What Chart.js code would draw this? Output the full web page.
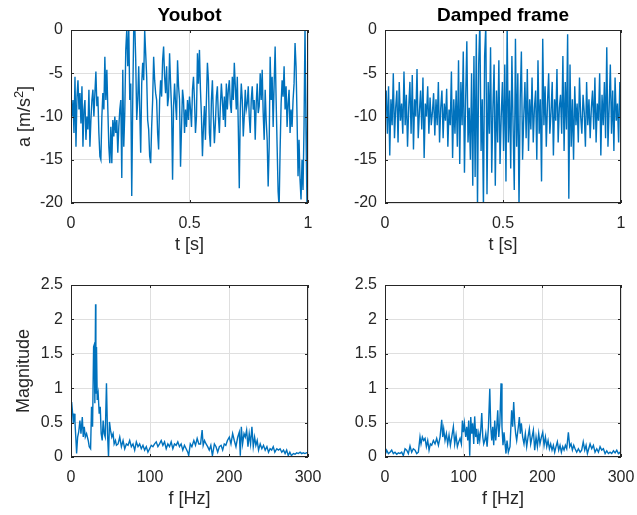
<!DOCTYPE html>
<html>
<head>
<meta charset="utf-8">
<script src="https://cdn.jsdelivr.net/npm/chart.js@4.4.0/dist/chart.umd.min.js"></script>
<style>
  body { margin: 0; background: #fff; }
  #wrap { position: relative; width: 637px; height: 515px; }
  canvas { position: absolute; }
</style>
</head>
<body>
<div id="wrap">
  <canvas id="accYoubot" width="335" height="265" style="left:0;top:0"></canvas>
  <canvas id="accDamped" width="302" height="265" style="left:335px;top:0"></canvas>
  <canvas id="fftYoubot" width="335" height="250" style="left:0;top:265px"></canvas>
  <canvas id="fftDamped" width="302" height="250" style="left:335px;top:265px"></canvas>
</div>
<script>
// acceleration over one second
const youbotAcc = [
  -9.2, -10, -8.1, -11.9, -5.4, -13.5, -7.7, -5.8, -9.2, -7.3,
  -10.8, -6.5, -13.5, -9.2, -8.1, -12.7, -10, -11.5, -6.9, -13.5,
  -10.4, -8.1, -6.9, -10, -7.3, -4.8, -8.8, -7.7, -11.9, -14.6,
  -15, -10, -7.3, -9.2, -3.1, -8.1, -4.6, -9.2, -13.5, -15.4,
  -11.2, -15.4, -10.4, -12.3, -10, -11.9, -10.4, -14.2, -11.2, -9.2,
  -8.1, -17.1, -4.6, -13.5, -9.6, -2.3, 0, -4.2, 0.5, -8.1,
  -6.2, -19.2, -8.1, 0.3, 0.8, -3.5, -10.4, -8.1, -4.2, -9.2,
  -14.2, -6.2, -3.8, -5.8, 0, -2.7, -5.4, -10.4, -11.5, -14.6,
  -15.4, -11.2, -8.1, -3.1, -5.8, -7.3, -8.1, -11.9, -13.8, -8.1,
  -5.8, -7.7, -3.5, -1.9, -5.4, -7.3, -4.2, -8.8, -7.7, -2.7,
  -6.2, -9.2, -17.3, -8.8, -6.2, -8.5, -10.4, -3.5, -6.5, -8.1,
  -15.8, -11.2, -6.9, -8.1, -11.9, -9.2, -11.2, -8.1, -10.4, -7.7,
  -9.2, -11.2, -6.9, -5.4, -8.1, -11.9, -10, -2.7, -6.2, -2.3,
  -6.9, -10, -14.6, -11.2, -8.8, -12.7, -8.1, -3.8, -5.8, -11.9,
  -13.5, -8.1, -5.8, -10, -13.1, -10.8, -7.7, -6.5, -10, -11.9,
  -8.8, -6.2, -8.1, -10.4, -7.7, -11.2, -6.2, -9.2, -6.9, -5.8,
  -8.5, -9.6, -5.4, -8.1, -3.8, -6.5, -9.2, -5.4, -11.2, -18.3,
  -9.2, -6.2, -8.1, -12.3, -10, -6.9, -9.2, -8.5, -6.5, -10,
  -11.9, -8.1, -6.5, -9.2, -8.1, -12.7, -8.5, -6.2, -9.6, -8.8,
  -5, -8.1, -4.6, -9.6, -12.7, -6.9, -10.4, -12.7, -18.1, -13.5,
  -3.1, -8.1, -5.4, -11.2, -6.2, -1.9, -8.1, -13.5, -18.7, -20.5,
  -13.8, -8.5, -5.8, -7.7, -4.2, -9.2, -6.5, -11.2, -8.5, -6.9,
  -11.9, -9.2, -11.2, -8.1, -6.2, -1.5, -4.2, -10, -16.9, -12.7,
  -17.3, -19.6, -15, -18.5, -11.2, 0.5, -11.9, -20.5, 0.5
];

const dampedAcc = [
  -10, -7, -12, -6.5, -14.5, -8, -11, -5, -12.5, -9, -7, -13, -6, -10.5, -8.5, -12, -4.8, -11, -7.5, -13.5,
  -9, -6, -12, -5.2, -13.8, -8, -10, -4.5, -12.5, -9.5, -7, -11.5, -5.5, -14.8, -8.5, -10, -6.5, -12, -7.8, -11,
  -9.5, -7.3, -12.2, -8, -11, -6, -13, -9, -7, -12.5, -8.5, -10.5, -6.8, -13.5, -9.2, -11, -4.8, -14.8, -8, -12,
  -7, -13.5, -3.5, -15.5, -6, -11, -2.5, -16.5, -8, -1.3, -13, -9, -15, -5, -18, -3, -17, -0.5, -20.5, -4,
  1, -14, -8, -20.5, -3, 0.5, -19, -6, -12, -2, -16.5, -9, -4, -18, -7, -13, -3.5, -15.5, -10, -6,
  -14, -4, -17.5, 0.5, -13, -7, -16, -3, -11, -18.5, -1, -13.5, -5, -20.5, -8, -2.5, -15, -10, -6, -12.5,
  -4.5, -14, -8, -11.5, -5.5, -13, -9, -7, -15, -3.5, -12, -8, -17.5, -1, -11, -6.5, -13.5, -8.5, -5, -12,
  -9.5, -6, -14.5, -8, -10.5, -4.5, -13, -9, -7.5, -12, -3, -14, -6, -11.5, -0.5, -19.5, -4, -13.5, -8, -15,
  -6.5, -11, -8.5, -13, -5.5, -10, -12, -7.5, -9.5, -13.5, -6, -11, -8, -12.5, -9, -7, -11.5, -5.5, -13, -8.5,
  -10.5, -5, -14.5, -7.5, -11, -6, -12.5, -2, -13.5, -9, -4, -12, -7, -14, -5.5, -10.5, -8.5, -13, -6, -10
];

// spectra: frequency [Hz] and magnitude
const youbotFreq = [
  0.8, 2.1, 2.9, 3.8, 5.0, 6.3, 7.1, 8.4, 9.7, 11.3, 12.6, 14.3, 15.5, 16.8, 18.1, 19.7, 21.8, 23.1, 24.8, 26.0,
  27.3, 28.6, 29.4, 30.2, 31.1, 31.5, 32.3, 33.2, 34.4, 35.7, 37.0, 38.2, 39.5, 40.7, 42.0, 43.3, 44.9, 46.2, 47.5, 48.7,
  50.0, 51.7, 53.3, 54.6, 56.3, 57.5, 59.6, 61.7, 63.8, 65.9, 68.0, 70.1, 72.2, 74.3, 76.4, 78.5, 80.6, 82.7, 84.8, 86.9,
  89.0, 91.1, 93.2, 95.3, 97.4, 99.5, 101.6, 103.7, 105.8, 107.9, 110.0, 112.1, 114.2, 116.3, 118.4, 120.5, 122.6, 124.7, 126.8, 128.9,
  131.0, 133.1, 135.2, 137.3, 139.4, 141.5, 143.6, 145.7, 147.8,
  149, 151, 153, 155.5, 157.6, 159.7, 161.8, 164, 166, 167.3, 169, 171, 173, 175, 177, 179, 181.5, 183.6, 185.7, 187.8,
  190, 192, 194, 196, 198, 200.4, 202.5, 204.6, 206.7, 208.8, 211, 213, 214.3, 215.6, 217.2, 219, 220.6, 222.3, 224, 225.6,
  227.3, 229, 230.7, 232.4, 234, 235.7, 237.4, 239.5, 241.6, 243.7, 245.8, 248, 250, 252, 254, 256, 258, 260.5, 262.6, 264.7,
  266.8, 269, 271, 273, 275, 277, 279, 281.5, 283.6, 285.7, 287.8, 290, 292, 294, 296, 300
];
const youbotMag = [
  0.80, 0.63, 0.49, 0.63, 0.51, 0.24, 0.05, 0.29, 0.36, 0.53, 0.34, 0.58, 0.29, 0.44, 0.29, 0.34, 0.24, 0.15, 0.12, 0.73,
  0.44, 1.60, 1.63, 0.78, 2.22, 0.92, 1.60, 0.83, 0.92, 0.63, 0.73, 0.34, 0.24, 0.53, 0.34, 0.29, 1.07, 0.34, 0.0, 0.51,
  0.39, 0.29, 0.34, 0.19, 0.24, 0.17, 0.19, 0.29, 0.15, 0.24, 0.12, 0.19, 0.17, 0.24, 0.15, 0.19, 0.10, 0.22, 0.15, 0.19,
  0.12, 0.17, 0.10, 0.15, 0.07, 0.12, 0.17, 0.15, 0.19, 0.22, 0.15, 0.19, 0.24, 0.17, 0.22, 0.12, 0.19, 0.15, 0.22, 0.12,
  0.19, 0.17, 0.22, 0.15, 0.19, 0.10, 0.17, 0.12, 0.07,
  0.02, 0.19, 0.15, 0.24, 0.17, 0.27, 0.19, 0.19, 0.39, 0.17, 0.24, 0.19, 0.15, 0.10, 0.17, 0.02, 0.19, 0.15, 0.07, 0.15,
  0.17, 0.10, 0.19, 0.17, 0.24, 0.29, 0.19, 0.34, 0.24, 0.15, 0.29, 0.36, 0.02, 0.44, 0.19, 0.34, 0.29, 0.39, 0.15, 0.34,
  0.19, 0.44, 0.15, 0.29, 0.17, 0.24, 0.10, 0.19, 0.12, 0.17, 0.10, 0.15, 0.07, 0.12, 0.10, 0.15, 0.07, 0.12, 0.10, 0.12,
  0.07, 0.10, 0.05, 0.10, 0.02, 0.07, 0.02, 0.05, 0.04, 0.06, 0.05, 0.07, 0.05, 0.06, 0.05, 0.07
];

const dampedFreq = [
  0.9, 2.1, 4.3, 6.4, 8.5, 10.6, 12.7, 14.9, 17, 19, 21.2, 23.3, 25.5, 27.6, 29.7, 31.8, 33.9, 36, 38.2, 40.3,
  42.4, 44.5, 45.8, 47.5, 49.2, 50.9, 52.6, 54.3, 56, 57.7, 59.4, 61.5, 63.6, 65.7, 67.9, 70, 72.1, 73.4, 74.6, 76.3,
  78, 79.7, 81.4, 83.1, 84.8, 86.9, 88.6, 90.3, 92, 93.7, 95.4, 97.1, 98.4, 99.7, 100.9, 102.6, 103.9, 105.2, 106.4, 107.7,
  109, 110.3, 111.5, 112.8, 114, 115.3, 116.6, 117.9, 119.2, 120.4, 121.7, 123, 124.3, 125.5, 126.8, 128.1, 129.8, 131.5, 133.2, 134.4,
  135.7, 137, 138.2, 139.5, 140.8, 142.1, 143.3, 144.6, 146, 147.5, 148.7, 150, 151.3, 152.6, 153.8, 155.1, 156.8, 158.9, 161, 162.3,
  163.6, 164.9, 166.1, 167.4, 169.5, 170.8, 172, 173.3, 175, 176.7, 178.4, 180.1, 181.8, 183.5, 185.2, 186.9, 188.6, 190.3, 192, 193.7,
  195.4, 197, 198.8, 200.5, 202.2, 203.9, 205.6, 207.3, 209, 210.6, 212.3, 214, 215.7, 217.4, 219.1, 220.8, 222.5, 224.2, 225.9, 227.6,
  229.3, 231, 233.1, 234.8, 236.5, 238.2, 239.9, 241.6, 243.7, 245.8, 248, 250, 252, 253.9, 255.6, 257.3, 259, 260.7, 262.8, 264.9,
  267, 269.2, 271.3, 273.4, 275.5, 277.6, 279.8, 281.9, 284, 286.1, 288.2, 290.4, 292.5, 294.6, 296.7, 298.8, 300
];
const dampedMag = [
  0.05, 0.10, 0.05, 0.07, 0.10, 0.05, 0.07, 0.04, 0.06, 0.05, 0.07, 0.02, 0.12, 0.10, 0.05, 0.16, 0.07, 0.12, 0.10, 0.05,
  0.07, 0.29, 0.19, 0.29, 0.24, 0.27, 0.15, 0.24, 0.10, 0.19, 0.17, 0.24, 0.19, 0.27, 0.17, 0.29, 0.54, 0.29, 0.41, 0.24,
  0.34, 0.19, 0.32, 0.17, 0.29, 0.44, 0.19, 0.32, 0.15, 0.22, 0.27, 0.19, 0.53, 0.36, 0.49, 0.29, 0.44, 0.24, 0.53, 0.02,
  0.58, 0.34, 0.49, 0.19, 0.59, 0.29, 0.41, 0.19, 0.34, 0.24, 0.39, 0.64, 0.29, 0.19, 0.24, 0.34, 0.15, 0.44, 0.99, 0.44,
  0.24, 0.44, 0.17, 0.53, 0.24, 0.44, 0.68, 0.29, 0.49, 1.07, 0.44, 0.17, 0.36, 0.19, 0.05, 0.24, 0.07, 0.15, 0.68, 0.44,
  0.80, 0.49, 0.34, 0.24, 0.44, 0.58, 0.34, 0.49, 0.29, 0.19, 0.34, 0.15, 0.29, 0.41, 0.19, 0.29, 0.39, 0.10, 0.29, 0.15,
  0.34, 0.19, 0.29, 0.36, 0.17, 0.29, 0.15, 0.24, 0.12, 0.19, 0.10, 0.17, 0.07, 0.15, 0.22, 0.10, 0.17, 0.07, 0.15, 0.10,
  0.17, 0.12, 0.36, 0.15, 0.19, 0.10, 0.17, 0.12, 0.07, 0.12, 0.07, 0.10, 0.22, 0.10, 0.17, 0.05, 0.12, 0.19, 0.12, 0.17,
  0.07, 0.12, 0.07, 0.15, 0.10, 0.12, 0.05, 0.09, 0.05, 0.07, 0.05, 0.09, 0.06, 0.10, 0.05, 0.07, 0.02
];

// tick values
const accTicks = [-20, -15, -10, -5, 0];
const timeTicks = [0, 0.5, 1];
const magTicks = [0, 0.5, 1, 1.5, 2, 2.5];
const freqTicks = [0, 100, 200, 300];

const axisColor = '#262626';
const gridColor = '#dfdfdf';
const lineColor = '#0072bd';
const fontFamily = "'Liberation Sans', Arial, Helvetica, sans-serif";
Chart.defaults.font.family = fontFamily;
Chart.defaults.color = axisColor;

// matlab style box with inward ticks, the subplot title and a tex-like y label
const boxPlugin = {
  id: 'matlabBox',
  afterDraw(chart, args, opts) {
    const { ctx, chartArea: a, scales } = chart;
    ctx.save();
    ctx.strokeStyle = axisColor;
    ctx.lineWidth = 1;
    ctx.strokeRect(a.left + 0.5, a.top + 0.5, a.right - a.left - 1, a.bottom - a.top - 1);
    ctx.beginPath();
    scales.x.ticks.forEach(t => {
      const px = Math.round(scales.x.getPixelForValue(t.value)) + 0.5;
      ctx.moveTo(px, a.bottom); ctx.lineTo(px, a.bottom - 3);
      ctx.moveTo(px, a.top); ctx.lineTo(px, a.top + 3);
    });
    scales.y.ticks.forEach(t => {
      const py = Math.round(scales.y.getPixelForValue(t.value)) + 0.5;
      ctx.moveTo(a.left, py); ctx.lineTo(a.left + 3, py);
      ctx.moveTo(a.right, py); ctx.lineTo(a.right - 3, py);
    });
    ctx.stroke();
    if (opts.text) {
      ctx.fillStyle = '#000';
      ctx.font = 'bold 19px ' + fontFamily;
      ctx.textAlign = 'center';
      ctx.textBaseline = 'middle';
      ctx.fillText(opts.text, (a.left + a.right) / 2, 16);
    }
    if (opts.yParts) {
      // rotated label with a raised exponent
      ctx.fillStyle = axisColor;
      ctx.textAlign = 'left';
      ctx.textBaseline = 'alphabetic';
      const parts = opts.yParts.map(p => {
        ctx.font = p.size + 'px ' + fontFamily;
        return { ...p, w: ctx.measureText(p.text).width };
      });
      const total = parts.reduce((s, p) => s + p.w, 0);
      ctx.translate(24, (a.top + a.bottom) / 2);
      ctx.rotate(-Math.PI / 2);
      let x = -total / 2;
      parts.forEach(p => {
        ctx.font = p.size + 'px ' + fontFamily;
        ctx.fillText(p.text, x, 6 - p.rise);
        x += p.w;
      });
    }
    ctx.restore();
  }
};

function makeChart(id, c) {
  return new Chart(document.getElementById(id), {
    type: 'line',
    data: {
      datasets: [{
        data: c.points,
        borderColor: lineColor,
        borderWidth: 1.4,
        pointRadius: 0,
        tension: 0,
        clip: 0
      }]
    },
    options: {
      responsive: false,
      animation: false,
      events: [],
      layout: { padding: c.padding },
      plugins: {
        legend: { display: false },
        tooltip: { enabled: false },
        matlabBox: { text: c.title, yParts: c.yParts }
      },
      scales: {
        x: {
          type: 'linear',
          min: c.xTicks[0],
          max: c.xTicks[c.xTicks.length - 1],
          afterBuildTicks: s => { s.ticks = c.xTicks.map(v => ({ value: v })); },
          afterFit: s => { s.height = c.xHeight; s.paddingLeft = 0; s.paddingRight = 0; },
          grid: { color: gridColor, drawTicks: false },
          border: { display: false },
          ticks: { padding: 11, font: { size: 16 }, maxRotation: 0, autoSkip: false, callback: v => String(v) },
          title: { display: true, text: c.xLabel, font: { size: 18 }, padding: { top: 0, bottom: c.xTitlePad } }
        },
        y: {
          type: 'linear',
          min: c.yTicks[0],
          max: c.yTicks[c.yTicks.length - 1],
          afterBuildTicks: s => { s.ticks = c.yTicks.map(v => ({ value: v })); },
          afterFit: s => { s.width = c.yWidth; s.paddingTop = 0; s.paddingBottom = 0; },
          grid: { color: gridColor, drawTicks: false },
          border: { display: false },
          ticks: { padding: 8, font: { size: 16 }, autoSkip: false, callback: v => String(v) },
          title: { display: !!c.yLabel, text: c.yLabel || '', font: { size: 18 }, padding: { top: 13, bottom: 0 } }
        }
      }
    },
    plugins: [boxPlugin]
  });
}

const toTime = arr => arr.map((v, i) => ({ x: i / (arr.length - 1), y: v }));
const toSpec = (f, m) => f.map((v, i) => ({ x: v, y: m[i] }));

makeChart('accYoubot', {
  points: toTime(youbotAcc), title: 'Youbot',
  xTicks: timeTicks, yTicks: accTicks, xLabel: 't [s]',
  yParts: [{ text: 'a [m/s', size: 18, rise: 0 }, { text: '2', size: 13, rise: 7 }, { text: ']', size: 18, rise: 0 }],
  padding: { left: 0, right: 27, top: 30, bottom: 0 }, yWidth: 71, xHeight: 62, xTitlePad: 9
});
makeChart('accDamped', {
  points: toTime(dampedAcc), title: 'Damped frame',
  xTicks: timeTicks, yTicks: accTicks, xLabel: 't [s]',
  padding: { left: 0, right: 16, top: 30, bottom: 0 }, yWidth: 50, xHeight: 62, xTitlePad: 9
});
makeChart('fftYoubot', {
  points: toSpec(youbotFreq, youbotMag),
  xTicks: freqTicks, yTicks: magTicks, xLabel: 'f [Hz]', yLabel: 'Magnitude',
  padding: { left: 0, right: 27, top: 20, bottom: 0 }, yWidth: 71, xHeight: 58, xTitlePad: 5
});
makeChart('fftDamped', {
  points: toSpec(dampedFreq, dampedMag),
  xTicks: freqTicks, yTicks: magTicks, xLabel: 'f [Hz]',
  padding: { left: 0, right: 16, top: 20, bottom: 0 }, yWidth: 50, xHeight: 58, xTitlePad: 5
});
</script>
</body>
</html>
